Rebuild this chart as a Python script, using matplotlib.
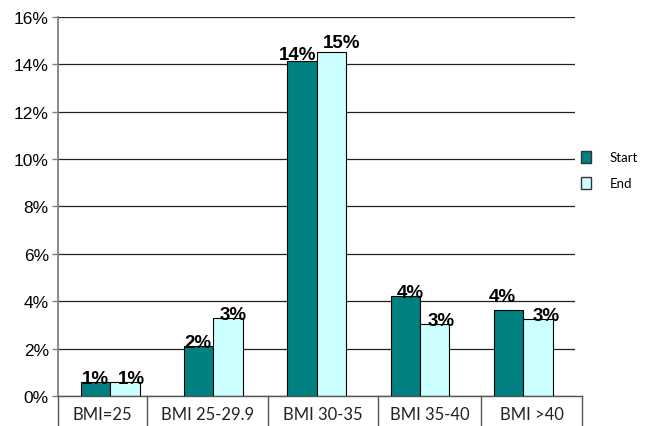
import matplotlib.pyplot as plt
from matplotlib.patches import Patch

categories = ['BMI=25', 'BMI 25-29.9', 'BMI 30-35', 'BMI 35-40', 'BMI >40']
start = [0.58, 2.11, 14.15, 4.21, 3.63]
end = [0.58, 3.28, 14.51, 3.04, 3.26]
yticks = [0, 2, 4, 6, 8, 10, 12, 14, 16]
# boundaries of the category label cells under the axis (in x data units)
cells = [-0.5, 0.356, 1.526, 2.597, 3.592, 4.573]
# value label nudges in pixels (dx, dy) so neighbouring labels don't collide
start_nudge = [(0, 0), (-1, 0), (-4, 3), (5, 0), (-6, 10)]
end_nudge = [(7, 0), (5, 0), (10, 6), (6, 0), (8, 0)]

teal = '#008080'
cyan = '#CCFFFF'

fig = plt.figure(figsize=(6.49, 4.27), dpi=100)
ax = fig.add_axes([0.0901, 0.0703, 0.7958, 0.8876])

w = 0.285
xs = list(range(len(categories)))
b1 = ax.bar([x - w / 2 for x in xs], start, w, color=teal, edgecolor='black', linewidth=0.8, zorder=3)
b2 = ax.bar([x + w / 2 for x in xs], end, w, color=cyan, edgecolor='black', linewidth=0.8, zorder=3)

for bars, vals, nudges in [(b1, start, start_nudge), (b2, end, end_nudge)]:
    for bar, v, (dx, dy) in zip(bars, vals, nudges):
        ax.annotate('%d%%' % round(v), (bar.get_x() + bar.get_width() / 2, v),
                    xytext=(dx, dy - 1), textcoords='offset pixels',
                    ha='center', va='baseline', fontsize=13.5, fontweight='bold',
                    family='Liberation Sans', zorder=4)

ax.set_xlim(-0.5, 4.5)
ax.set_ylim(0, 16)
ax.set_yticks(yticks)
ax.set_yticklabels(['%d%%' % t for t in yticks], family='Liberation Sans', fontsize=12.5)
ax.set_xticks([])
ax.yaxis.grid(True, color='#222222', linewidth=0.9, zorder=0)
ax.set_axisbelow(True)
for s in ['top', 'right', 'bottom']:
    ax.spines[s].set_visible(False)
ax.spines['left'].set_color('#808080')
ax.spines['left'].set_linewidth(1.3)
ax.tick_params(axis='y', length=4, width=1, color='#808080', pad=3)

# category label table below the bars
trans = ax.get_xaxis_transform()
ax.plot([cells[0], cells[-1]], [0, 0], color='#555555', lw=1.0, transform=trans, clip_on=False, zorder=5)
for c in cells:
    ax.plot([c, c], [0, -0.1], color='#555555', lw=1.0, transform=trans, clip_on=False)
for i, cat in enumerate(categories):
    ax.text((cells[i] + cells[i + 1]) / 2, -0.047, cat, transform=trans, ha='center', va='center',
            fontsize=12, family='Lato', color='#222222')

handles = [Patch(facecolor=teal, edgecolor='#333333', label='Start'),
           Patch(facecolor=cyan, edgecolor='#333333', label='End')]
leg = ax.legend(handles=handles, loc='center left', bbox_to_anchor=(0.996, 0.596), frameon=False,
                handlelength=0.8, handleheight=1.0, handletextpad=1.4,
                labelspacing=1.0, borderaxespad=0.2, prop={'family': 'Lato', 'size': 9.5})

fig.savefig('out.png', dpi=100)
